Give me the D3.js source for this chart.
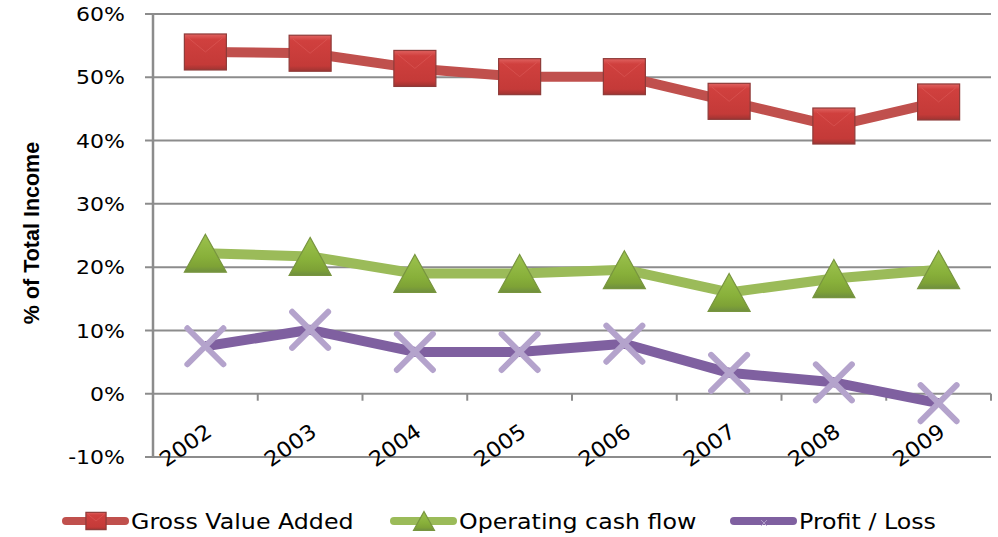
<!DOCTYPE html>
<html><head><meta charset="utf-8">
<script src="https://cdn.jsdelivr.net/npm/d3@7"></script>
<style>body{margin:0;background:#fff}svg{display:block}</style>
</head><body><svg id="c" width="998" height="537"></svg>
<script>
const years = ["2002","2003","2004","2005","2006","2007","2008","2009"];
const grossValueAdded = [54.0, 53.8, 51.4, 50.1, 50.1, 46.2, 42.3, 46.1];
const operatingCashFlow = [22.2, 21.7, 19.0, 19.0, 19.6, 16.0, 18.2, 19.6];
const profitLoss = [7.5, 10.1, 6.6, 6.6, 7.9, 3.3, 1.8, -1.5];
const yTicks = [-10, 0, 10, 20, 30, 40, 50, 60];
const seriesNames = ["Gross Value Added", "Operating cash flow", "Profit / Loss"];

const svg = d3.select("#c");
const L = 153, R = 991, T = 14, B = 457;
const x = d3.scaleBand().domain(years).range([L, R]);
const y = d3.scaleLinear().domain([-10, 60]).range([B, T]);
const font = "DejaVu Sans";

const defs = svg.append("defs");
function grad(id, stops){
  const g = defs.append("linearGradient").attr("id", id).attr("x1",0).attr("y1",0).attr("x2",0).attr("y2",1);
  stops.forEach(s => g.append("stop").attr("offset", s[0]).attr("stop-color", s[1]));
}
grad("gRed", [[0,"#E06260"],[0.15,"#D0403E"],[0.85,"#C43A38"],[1,"#9E3432"]]);
grad("gGreen", [[0,"#9CC24E"],[0.6,"#88B03A"],[0.85,"#7EA236"],[1,"#6E8E40"]]);

// gridlines
svg.append("g").selectAll("line").data(yTicks).join("line")
  .attr("x1", L - 8).attr("x2", R).attr("y1", d => y(d)).attr("y2", d => y(d))
  .attr("stroke", "#8C8C8C").attr("stroke-width", 2);
// y axis line
svg.append("line").attr("x1", L).attr("x2", L).attr("y1", T).attr("y2", B + 1)
  .attr("stroke", "#8C8C8C").attr("stroke-width", 2.5);
// x category ticks on 0 line
const bounds = years.map(d => x(d)).slice(1).concat([R]);
svg.append("g").selectAll("line").data(bounds).join("line")
  .attr("x1", d => d).attr("x2", d => d).attr("y1", y(0)).attr("y2", y(0) + 7)
  .attr("stroke", "#8C8C8C").attr("stroke-width", 2);

// y labels
svg.append("g").selectAll("text").data(yTicks).join("text")
  .attr("transform", d => `translate(125,${y(d)}) scale(1.1,1)`).attr("dy", "0.36em")
  .attr("text-anchor", "end").attr("font-family", font).attr("font-size", 20)
  .attr("fill", "#000").text(d => d + "%");

// y title
svg.append("text").attr("transform", "translate(39,233) rotate(-90)")
  .attr("text-anchor", "middle").attr("font-family", "Liberation Sans").attr("font-weight", "bold")
  .attr("font-size", 21.5).text("% of Total Income");

// x labels
svg.append("g").selectAll("text").data(years).join("text")
  .attr("transform", d => `translate(${x(d) + x.bandwidth()/2 + 8},${y(0) + 41}) rotate(-35) scale(1.08,1)`)
  .attr("text-anchor", "end").attr("font-family", font).attr("font-size", 21).text(d => d);

const cx = d => x(d) + x.bandwidth()/2;
const line = d3.line().x((d,i) => cx(years[i])).y(d => y(d));

const series = [
  {vals: grossValueAdded, color: "#C0504D", type: "square"},
  {vals: operatingCashFlow, color: "#9BBB59", type: "tri"},
  {vals: profitLoss, color: "#7F60A0", type: "x"}
];

function drawMarker(g, type, px, py, s) {
  if (type === "square") {
    const w = 42 * s, h = 36 * s;
    g.append("rect").attr("x", px - w/2).attr("y", py - h/2).attr("width", w).attr("height", h)
      .attr("fill", "url(#gRed)").attr("stroke", "#8E3B39").attr("stroke-width", 1.2);
    g.append("path").attr("d", `M${px-w/2+4*s},${py-h/2+4*s}L${px},${py}L${px+w/2-4*s},${py-h/2+4*s}`)
      .attr("fill", "none").attr("stroke", "#E8706E").attr("stroke-opacity", 0.35).attr("stroke-width", 1);
  } else if (type === "tri") {
    const w = 42 * s, h = 38 * s;
    g.append("path").attr("d", `M${px},${py-h/2}L${px+w/2},${py+h/2}L${px-w/2},${py+h/2}Z`)
      .attr("fill", "url(#gGreen)").attr("stroke", "#78953F").attr("stroke-width", 1.2);
  } else {
    const r = 18 * s;
    g.append("path").attr("d", `M${px-r},${py-r}L${px+r},${py+r}M${px-r},${py+r}L${px+r},${py-r}`)
      .attr("stroke", "#B4A3CC").attr("stroke-width", 6 * s).attr("stroke-linecap", "round").attr("fill", "none");
  }
}

series.forEach(sr => {
  svg.append("path").datum(sr.vals).attr("d", line).attr("fill", "none")
    .attr("stroke", sr.color).attr("stroke-width", 10).attr("stroke-linejoin", "round");
});
series.forEach(sr => {
  const g = svg.append("g");
  sr.vals.forEach((v, i) => drawMarker(g, sr.type, cx(years[i]), y(v), 1));
});

// legend
const legX = [63, 391, 731];
series.forEach((sr, i) => {
  const g = svg.append("g");
  const x0 = legX[i], ly = 521;
  g.append("line").attr("x1", x0 + 3).attr("x2", x0 + 62).attr("y1", ly).attr("y2", ly)
    .attr("stroke", sr.color).attr("stroke-width", 8).attr("stroke-linecap", "round");
  if (sr.type === "square") drawMarker(g, "square", x0 + 33, ly, 0.48);
  else if (sr.type === "tri") drawMarker(g, "tri", x0 + 33, ly, 0.5);
  else drawMarker(g, "x", x0 + 33, ly + 2, 0.15);
  g.append("text").attr("transform", `translate(${x0 + 68},${ly}) scale(1.13,1)`).attr("dy", "0.36em")
    .attr("font-family", font).attr("font-size", 21).text(seriesNames[i]);
});
</script></body></html>
